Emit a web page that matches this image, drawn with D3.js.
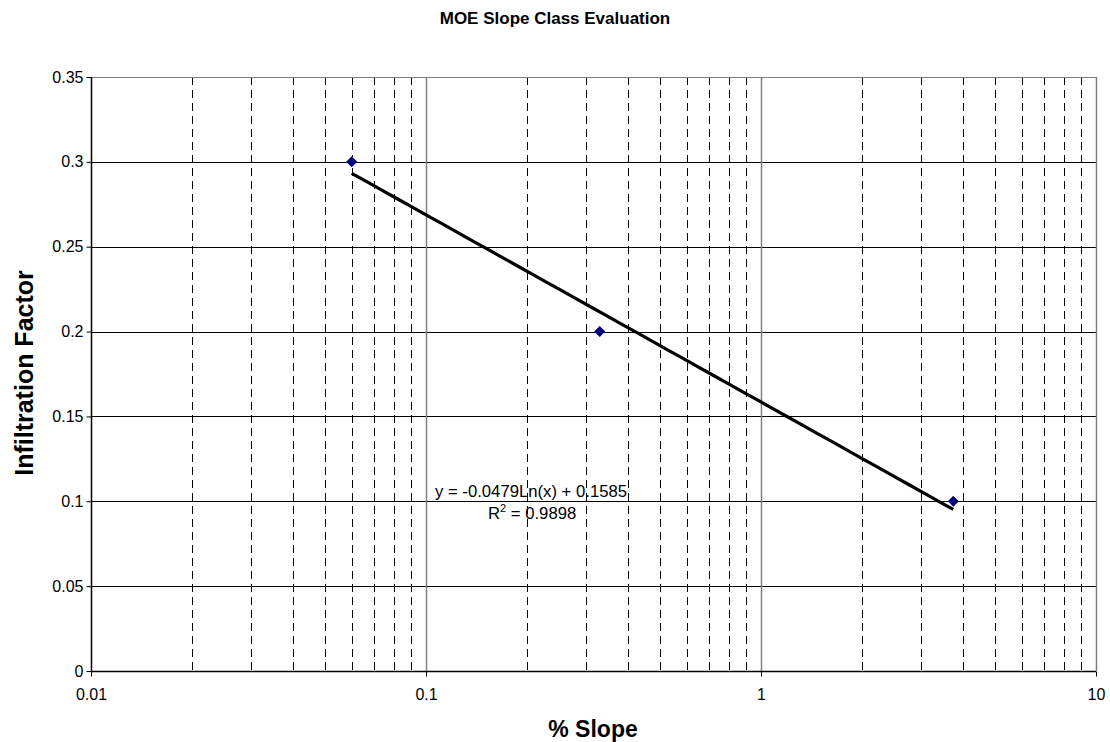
<!DOCTYPE html>
<html>
<head>
<meta charset="utf-8">
<script src="https://cdn.jsdelivr.net/npm/d3@7.9.0/dist/d3.min.js"></script>
<style>
  body { margin: 0; background: #fff; }
  svg text { font-family: Arial, "Liberation Sans", sans-serif; }
</style>
</head>
<body>
<div id="chart"></div>
<script>
// data
const slopes = [0.06, 0.33, 3.75];
const factors = [0.3, 0.2, 0.1];
const yTicks = [0, 0.05, 0.1, 0.15, 0.2, 0.25, 0.3, 0.35];
const xTicks = [0.01, 0.1, 1, 10];
// Excel log trendline
const trendA = -0.0479;
const trendB = 0.1585;

const width = 1110;
const height = 742;
const margin = { top: 77, right: 14, bottom: 71, left: 91 };

const svg = d3
  .select('#chart')
  .append('svg')
  .attr('width', width)
  .attr('height', height);

const xScale = d3.scaleLog().domain([0.01, 10]).range([margin.left, width - margin.right]);
const yScale = d3.scaleLinear().domain([0, 0.35]).range([height - margin.bottom, margin.top]);

// minor vertical gridlines (dashed)
const minor = [];
for (let dec = 0.01; dec < 10; dec *= 10) {
  for (let k = 2; k <= 9; k++) minor.push(+(k * dec).toPrecision(3));
}
svg
  .append('g')
  .selectAll('line')
  .data(minor)
  .join('line')
  .attr('x1', (d) => Math.round(xScale(d)) + 0.5)
  .attr('x2', (d) => Math.round(xScale(d)) + 0.5)
  .attr('y1', margin.top)
  .attr('y2', height - margin.bottom)
  .attr('stroke', '#000')
  .attr('stroke-width', 1)
  .attr('stroke-dasharray', '8,5');

// horizontal gridlines
svg
  .append('g')
  .selectAll('line')
  .data(yTicks.slice(1))
  .join('line')
  .attr('x1', margin.left)
  .attr('x2', width - margin.right)
  .attr('y1', (d) => Math.round(yScale(d)) + 0.5)
  .attr('y2', (d) => Math.round(yScale(d)) + 0.5)
  .attr('stroke', (d) => (d === 0.35 ? '#808080' : '#000'))
  .attr('stroke-width', 1);

// major vertical gridlines
svg
  .append('g')
  .selectAll('line')
  .data([0.1, 1, 10])
  .join('line')
  .attr('x1', (d) => Math.round(xScale(d)) + 0.5)
  .attr('x2', (d) => Math.round(xScale(d)) + 0.5)
  .attr('y1', margin.top)
  .attr('y2', height - margin.bottom)
  .attr('stroke', '#808080')
  .attr('stroke-width', 1.5);

// axes
const yAxis = d3
  .axisLeft(yScale)
  .tickValues(yTicks)
  .tickSize(5)
  .tickFormat((d) => String(+d.toFixed(2)));
const gy = svg
  .append('g')
  .attr('transform', `translate(${margin.left + 0.5},0)`)
  .call(yAxis);

const xAxis = d3
  .axisBottom(xScale)
  .tickValues(xTicks)
  .tickSize(5)
  .tickFormat((d) => String(d));
const gx = svg
  .append('g')
  .attr('transform', `translate(0,${height - margin.bottom + 0.5})`)
  .call(xAxis);

[gx, gy].forEach((g) => {
  g.attr('font-size', 16);
  g.select('.domain').attr('stroke', '#000').attr('stroke-width', 1.5);
  g.selectAll('.tick line').attr('stroke', '#000');
  g.selectAll('.tick text')
    .attr('fill', '#000')
    .style('font-family', 'Arial, "Liberation Sans", sans-serif');
});
gx.selectAll('.tick text').attr('y', 17).attr('dy', '0.71em');
gy.selectAll('.tick text').attr('x', -8);
gx.select('.domain').attr('d', `M${margin.left},0H${width - margin.right}`);
gy.select('.domain').attr('d', `M0,${height - margin.bottom}V${margin.top}`);

// trendline
const tx = [d3.min(slopes), d3.max(slopes)];
const line = d3
  .line()
  .x((d) => xScale(d))
  .y((d) => yScale(trendA * Math.log(d) + trendB));
svg
  .append('path')
  .datum(d3.range(0, 41).map((i) => tx[0] * Math.pow(tx[1] / tx[0], i / 40)))
  .attr('d', line)
  .attr('fill', 'none')
  .attr('stroke', '#000')
  .attr('stroke-width', 3.2);

// points
svg
  .append('g')
  .selectAll('path')
  .data(slopes.map((s, i) => [s, factors[i]]))
  .join('path')
  .attr('transform', (d) => `translate(${xScale(d[0])},${yScale(d[1])})`)
  .attr('d', 'M0,-5.5L5.5,0L0,5.5L-5.5,0Z')
  .attr('fill', '#000080');

// trendline label
svg
  .append('text')
  .attr('x', 435)
  .attr('y', 497)
  .attr('font-size', 16.7)
  .text('y = -0.0479Ln(x) + 0.1585');
const r2 = svg.append('text').attr('x', 488).attr('y', 519).attr('font-size', 16.7);
r2.append('tspan').text('R');
r2.append('tspan').attr('font-size', 11).attr('dy', -7).text('2');
r2.append('tspan').attr('dy', 7).text(' = 0.9898');

// titles
svg
  .append('text')
  .attr('x', 555)
  .attr('y', 24)
  .attr('text-anchor', 'middle')
  .attr('font-size', 17)
  .attr('font-weight', 'bold')
  .text('MOE Slope Class Evaluation');

svg
  .append('text')
  .attr('x', 593)
  .attr('y', 737)
  .attr('text-anchor', 'middle')
  .attr('font-size', 23)
  .attr('font-weight', 'bold')
  .text('% Slope');

svg
  .append('text')
  .attr('transform', 'translate(33,373) rotate(-90)')
  .attr('text-anchor', 'middle')
  .attr('font-size', 25)
  .attr('font-weight', 'bold')
  .text('Infiltration Factor');
</script>
</body>
</html>
